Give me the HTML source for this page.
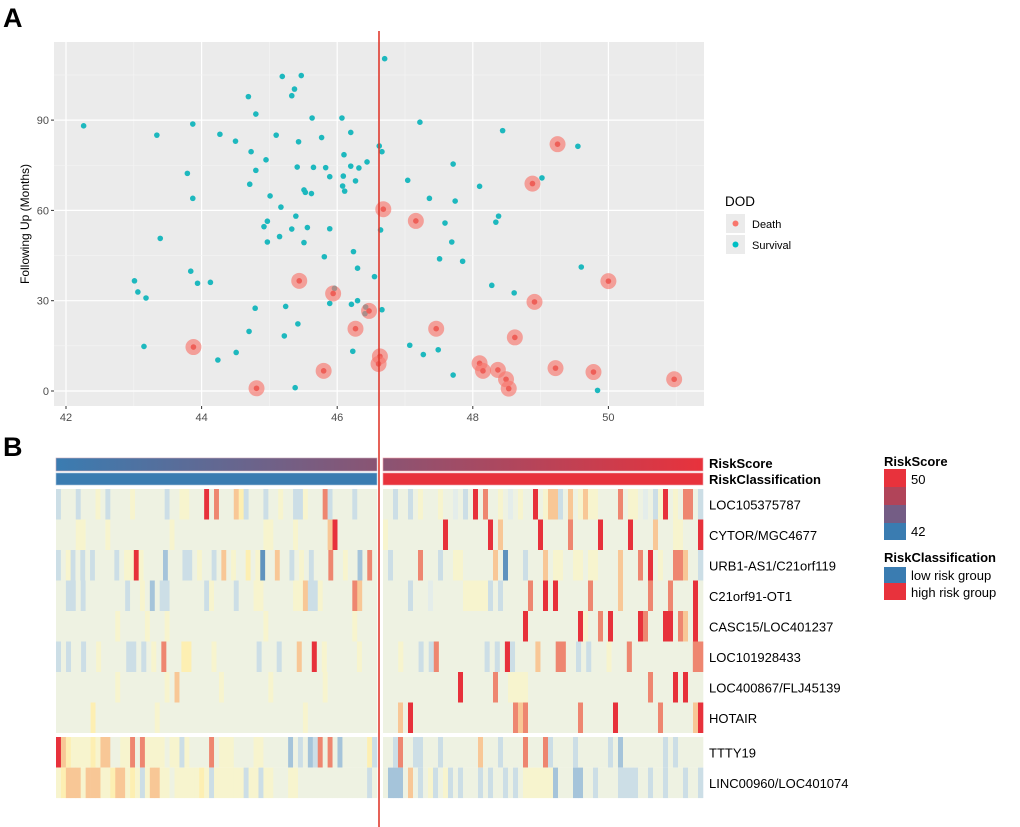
<!DOCTYPE html>
<html><head><meta charset="utf-8">
<style>
body{margin:0;background:#fff;}
svg{display:block;font-family:"Liberation Sans",sans-serif;}
</style></head>
<body>
<svg id="c" width="1020" height="827" viewBox="0 0 1020 827">
<text x="3" y="27" font-size="27" font-weight="bold">A</text>
<text x="3" y="456" font-size="27" font-weight="bold">B</text>
<rect x="54" y="42" width="650" height="364" fill="#EBEBEB"/>
<g id="grid"></g>
<g id="ticks"></g>
<text transform="translate(29,224) rotate(-90)" text-anchor="middle" font-size="12">Following Up (Months)</text>
<g id="pts"></g>
<g>
<text x="725" y="206" font-size="13.5">DOD</text>
<rect x="726" y="214" width="19" height="19" fill="#EBEBEB"/>
<circle cx="735.5" cy="223.5" r="3" fill="#F8766D"/>
<text x="752" y="228" font-size="11">Death</text>
<rect x="726" y="235" width="19" height="19" fill="#EBEBEB"/>
<circle cx="735.5" cy="244.5" r="3" fill="#00BFC4"/>
<text x="752" y="249" font-size="11">Survival</text>
</g>
<defs>
<linearGradient id="gl" x1="0" x2="1"><stop offset="0" stop-color="#3A7CB1"/><stop offset="1" stop-color="#8A5473"/></linearGradient>
<linearGradient id="gr" x1="0" x2="1"><stop offset="0" stop-color="#8A5473"/><stop offset="1" stop-color="#E8323C"/></linearGradient>
</defs>
<rect x="56" y="458" width="321" height="13" fill="url(#gl)" stroke="#c9a9b8" stroke-width="0.6"/>
<rect x="383" y="458" width="320" height="13" fill="url(#gr)" stroke="#f0a0a8" stroke-width="0.6"/>
<rect x="56" y="473" width="321" height="12" fill="#3A7CB1" stroke="#a8c3da" stroke-width="0.6"/>
<rect x="383" y="473" width="320" height="12" fill="#E8323C" stroke="#f0a0a8" stroke-width="0.6"/>
<text x="709" y="468" font-size="13" font-weight="bold">RiskScore</text>
<text x="709" y="484" font-size="13" font-weight="bold">RiskClassification</text>
<g id="heat"></g>
<g id="rowlabels"></g>
<g>
<text x="884" y="466" font-size="13" font-weight="bold">RiskScore</text>
<rect x="884" y="469" width="22" height="18" fill="#E8323C"/>
<rect x="884" y="487" width="22" height="18" fill="#B14459"/>
<rect x="884" y="505" width="22" height="18" fill="#745D85"/>
<rect x="884" y="523" width="22" height="17" fill="#3A7CB1"/>
<text x="911" y="484" font-size="13">50</text>
<text x="911" y="536" font-size="13">42</text>
<text x="884" y="562" font-size="13" font-weight="bold">RiskClassification</text>
<rect x="884" y="567" width="22" height="16" fill="#3A7CB1"/>
<rect x="884" y="583" width="22" height="17" fill="#E8323C"/>
<text x="911" y="580" font-size="13">low risk group</text>
<text x="911" y="597" font-size="13">high risk group</text>
</g>
<line x1="379" y1="31" x2="379" y2="827" stroke="#E03A2E" stroke-width="1.6"/>
</svg>
<script>
const survX=[46.70,42.26,45.19,45.47,45.37,45.33,44.69,44.80,45.63,46.07,43.87,43.34,44.27,44.50,45.10,45.77,45.43,46.20,46.62,46.66,44.73,46.10,44.95,46.44,45.41,45.65,45.83,46.20,46.32,43.79,44.80,45.89,46.09,44.71,46.08,46.27,45.51,45.53,45.62,46.11,43.87,45.01,45.17,45.39,44.97,44.92,45.33,45.56,45.89,46.64,43.39,44.97,45.15,45.51,46.24,45.81,46.30,46.55,43.01,43.84,43.94,44.13,43.06,43.18,45.96,45.89,46.30,46.21,46.42,46.41,46.66,44.79,45.24,45.42,44.70,45.22,43.15,44.51,44.24,46.23,45.38,
47.22,48.44,49.55,47.71,47.04,49.02,48.10,47.36,47.74,48.38,48.34,47.59,47.69,47.51,47.85,49.60,48.28,48.61,47.07,47.27,47.49,47.71,49.84];
const survY=[110.4,88.1,104.5,104.8,100.3,98.1,97.8,92.0,90.7,90.7,88.7,85.0,85.3,83.0,85.0,84.2,82.8,85.9,81.4,79.5,79.5,78.5,76.8,76.1,74.4,74.3,74.2,74.7,74.1,72.3,73.3,71.2,71.4,68.7,68.1,69.8,66.8,66.0,65.6,66.4,64.0,64.8,61.1,58.1,56.4,54.6,53.8,54.3,53.9,53.5,50.7,49.5,51.3,49.3,46.3,44.6,40.8,38.0,36.6,39.8,35.8,36.1,32.9,30.9,34.1,29.1,30.0,28.8,27.9,25.7,27.0,27.5,28.1,22.3,19.8,18.3,14.8,12.8,10.3,13.2,1.1,
89.3,86.5,81.3,75.4,70.0,70.8,68.0,64.0,63.1,58.1,56.1,55.8,49.5,43.9,43.1,41.2,35.1,32.6,15.2,12.1,13.7,5.3,0.2];
const deathX=[46.68,45.44,45.94,46.47,46.27,43.88,46.63,46.61,45.80,44.81,49.25,48.88,47.16,50.00,48.91,47.46,48.62,48.10,48.15,48.37,48.49,48.53,49.22,49.78,50.97];
const deathY=[60.4,36.6,32.4,26.6,20.7,14.6,11.5,9.0,6.7,0.9,82.0,68.9,56.5,36.5,29.6,20.7,17.8,9.2,6.7,7.0,3.9,0.8,7.6,6.3,3.9];
const xTicks=[42,44,46,48,50];
const yTicks=[0,30,60,90];
const geneNames=["LOC105375787","CYTOR/MGC4677","URB1-AS1/C21orf119","C21orf91-OT1","CASC15/LOC401237","LOC101928433","LOC400867/FLJ45139","HOTAIR","TTTY19","LINC00960/LOC401074"];
const heatLow=[
"ceeeceeefeceeeefeeeeeeceeffeeejeieeehgceeeceefeeccfeeeiceeeeceeee",
"eeeeffeeeefeeeeeeeeeeeefeeeeeeeeeeeeeeeeeeffeeeefeeeeeehjeeeeeeee",
"cefcececeeeeceffjfeeeebeeeccefeecehefeegefaeeheecefeceeeieefeebeie",
"eecceceeeeeeeeceefebecceeeeeeecfeeeeceeeffeeeeeeffhccfeeeeeeiheee",
"eeeeeeeeeeeefeeeeefeeefeeeeeeeeeeeeeeeeeeefeeeeeeeeeeeeeeeeefeeee",
"ceceeceefeeeeeccecefeieeeggeeeefeeeeeeeeceeeceeeheejefeeeeeefeee",
"eeeeeeeeeeeefeeeeeeeeefeheeeeeeeefeeeeeeeeefeeeeeeeeeefeeeeeeeeee",
"eeeeeeegeeeeeeeeeeeefeeeeeeeeeeeeeeeeeeeeeeeeeeeeefeeeeeeeeeeeeee",
"jhgffffgfhheeffieiffffeffcfeeeeiefffeeeeffeeeeebecebcieiebeeeeegc",
"fghhhfhhhffghhfgfcfhhffefffffgfcffffffcffcffeeeffeeeeeeeeeeeeeece"];
const heatHigh=[
"eeceecefeeefeedecejeieefedefeejefhhcehefhffeeeeieffedecfjefeiiec",
"feeeeeeeeeeejeeeeeeeejeheeeeeeejeeeeeieeeeejeeeeejeeeeheeeffeeej",
"eceeeeeieeeceeffeeeeeeheaeeeceeeheffeeffeffeeeeheeeiejefeeiiheec",
"eeeeeceeedeeeeeefffffceceeeeeieejejeeeeeeieeeeeheeeeeieeeieeeeje",
"eeeeeeeeeeeeeeeeeeeeeeeeeeeejeeeeeeeeeejfeeiejeeeeejieeejjeiheje",
"eeefeeececieeeeeeeeecece jceeeehe eeiieececeeefeeeieeeeeeeeeeeeii".replace(/ /g,""),
"eeeeeeeeeeeeeeejeeeeeeieeffffeeeeeeeeeeeeeeeeeeeeeeeeiee eejejeee".replace(/ /g,""),
"eeehejeeeeeeeeeeeeeeeeeeeeihieeeeeeeeeeieeeeeejeeeeeeeeieeeeeehj",
"eecieecceeeceeeeeeeheeeceeeeieeeiceeeeceeeeeecebeeeeeeeececeeeee",
"ebbbehecefcefceceeececeececeffffffbeeebbeeceeeecccceeceeceeeceec"];
const ns="http://www.w3.org/2000/svg";
const PX0=54,PX1=704,PY0=42,PY1=406;
function sx(v){return 66+(v-42)*67.8;}
function sy(v){return 391-v*3.01;}
function mk(tag,attrs,parent){const e=document.createElementNS(ns,tag);for(const k in attrs)e.setAttribute(k,attrs[k]);parent.appendChild(e);return e;}
const grid=document.getElementById('grid'),ticks=document.getElementById('ticks'),pts=document.getElementById('pts');
for(let i=0;i<xTicks.length;i++){
  const v=xTicks[i];
  const mn=mk('line',{x1:sx(v+1),x2:sx(v+1),y1:PY0,y2:PY1,stroke:'#F5F5F5','stroke-width':0.6},grid);
  
  
  const g=mk('line',{x1:sx(v),x2:sx(v),y1:PY0,y2:PY1,stroke:'#fff','stroke-width':1.2},grid);
  
  
  const t=mk('line',{x1:sx(v),x2:sx(v),y1:PY1,y2:PY1+3,stroke:'#333'},ticks);
  
  
  const l=mk('text',{x:sx(v),y:PY1+15,'text-anchor':'middle','font-size':11,fill:'#4D4D4D'},ticks);
  l.textContent=v;
  
  
}
{const mn=mk('line',{x1:sx(41),x2:sx(41),y1:PY0,y2:PY1,stroke:'#F5F5F5','stroke-width':0.6},grid);}
for(let i=0;i<yTicks.length;i++){
  const v=yTicks[i];
  const mn=mk('line',{x1:PX0,x2:PX1,y1:sy(v+15),y2:sy(v+15),stroke:'#F5F5F5','stroke-width':0.6},grid);
  
  
  const g=mk('line',{x1:PX0,x2:PX1,y1:sy(v),y2:sy(v),stroke:'#fff','stroke-width':1.2},grid);
  
  
  const t=mk('line',{x1:PX0-3,x2:PX0,y1:sy(v),y2:sy(v),stroke:'#333'},ticks);
  
  
  const l=mk('text',{x:PX0-5,y:sy(v)+4,'text-anchor':'end','font-size':11,fill:'#4D4D4D'},ticks);
  l.textContent=v;
  
  
}
for(let i=0;i<survX.length;i++){
  const c=mk('circle',{cx:sx(survX[i]),cy:sy(survY[i]),r:2.8,fill:'#1DB8BE'},pts);
  
  
}
for(let i=0;i<deathX.length;i++){
  const c=mk('circle',{cx:sx(deathX[i]),cy:sy(deathY[i]),r:8,fill:'#F8766D','fill-opacity':0.65},pts);
  
  
  const d=mk('circle',{cx:sx(deathX[i]),cy:sy(deathY[i]),r:2.8,fill:'#EE5F58'},pts);
  
  
}
const col={a:'#5F93BE',b:'#A5C4DA',c:'#CCDEE6',d:'#E4EDEA',e:'#EEF2E2',f:'#F7F4CE',g:'#FDEFB2',h:'#F8C796',i:'#EE8670',j:'#E7313B'};
const heat=document.getElementById('heat'),rl=document.getElementById('rowlabels');
const rowTops=[];for(let r=0;r<8;r++)rowTops.push(489+r*30.5);for(let r=0;r<2;r++)rowTops.push(737+r*30.6);
for(let r=0;r<geneNames.length;r++){
  const y=rowTops[r],h=30.5;
  [[heatLow[r],56,377],[heatHigh[r],383,703]].forEach(([s,x0,x1])=>{
    const w=(x1-x0)/s.length;
    for(let k=0;k<s.length;k++){
      const c=mk('rect',{x:(x0+k*w).toFixed(2),y:y,width:(w+0.3).toFixed(2),height:h,fill:col[s[k]]||col.e},heat);
      
      
    }
  });
  const t=mk('text',{x:709,y:y+h/2+5,'font-size':13},rl);
  t.textContent=geneNames[r];
  
  
}
</script>
</body></html>
